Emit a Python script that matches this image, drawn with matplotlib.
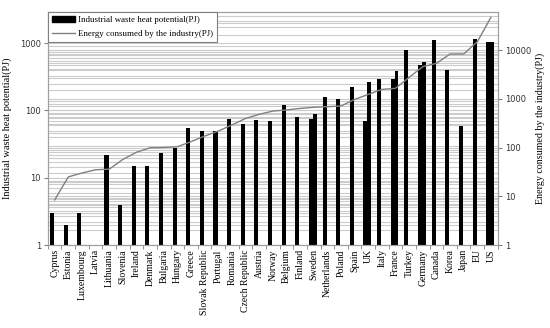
import numpy as np
import matplotlib
matplotlib.use("Agg")
import matplotlib.pyplot as plt
from matplotlib.patches import Patch
from matplotlib.lines import Line2D

# data
countries = ["Cyprus", "Estonia", "Luxembourg", "Latvia", "Lithuania", "Slovenia",
             "Ireland", "Denmark", "Bulgaria", "Hungary", "Greece", "Slovak Republic",
             "Portugal", "Romania", "Czech Republic", "Austria", "Norway", "Belgium",
             "Finland", "Sweden", "Netherlands", "Poland", "Spain", "UK", "Italy",
             "France", "Turkey", "Germany", "Canada", "Korea", "Japan", "EU", "US"]
nan = np.nan
waste_heat = [3, 2, 3, nan, 22, 4, 15, 15, 23, 28, 55, 49, 50, 74, 64, 72, 70, 119,
              81, 74, 158, 148, 225, 70, 293, 293, 790, 470, 1130, 395, 59, 1140, 1050]
# second bar drawn next to some countries in the original
waste_heat_2 = [nan] * 19 + [88, nan, nan, nan, 262, nan, 390, nan, 520,
                             nan, nan, nan, nan, 1050]
energy = [8.4, 25, 30, 35, 36, 57, 80, 99, 100, 104, 132, 172, 218, 290, 395, 480,
          560, 590, 635, 670, 690, 710, 970, 1230, 1560, 1640, 2750, 4570, 5330,
          8300, 8300, 14800, 47000]

L_MAX, R_MAX = 2900, 60000
serif = "Liberation Serif"
x = np.arange(len(countries))

fig = plt.figure(figsize=(5.5, 3.28), dpi=100)
ax = fig.add_axes([0.087, 0.253, 0.818, 0.71])
ax2 = ax.twinx()

# grid lines (left and right scales), kept behind the bars
grid_kw = dict(color="#cccccc", lw=0.8, zorder=0)
for d in [1, 10, 100, 1000]:
    for k in range(1, 10):
        v = d * k
        if v < L_MAX:
            ax.axhline(v, **grid_kw)
for d in [1, 10, 100, 1000, 10000]:
    for k in range(1, 10):
        v = d * k
        if v < R_MAX:
            frac = np.log10(v) / np.log10(R_MAX)
            ax.axhline(L_MAX ** frac, **grid_kw)

ax.bar(x - 0.2, waste_heat, width=0.3, color="black", zorder=2)
ax.bar(x + 0.08, waste_heat_2, width=0.28, color="black", zorder=2)
ax.set_yscale("log")
ax.set_ylim(1, L_MAX)
ax.set_xlim(-0.5, len(countries) - 0.5)

ax2.plot(x, energy, color="#808080", lw=1.0)
ax2.set_yscale("log")
ax2.set_ylim(1, R_MAX)

ax.set_yticks([1, 10, 100, 1000])
ax.set_yticklabels(["1", "10", "100", "1000"])
ax.yaxis.set_minor_locator(matplotlib.ticker.NullLocator())
ax2.set_yticks([1, 10, 100, 1000, 10000])
ax2.set_yticklabels(["1", "10", "100", "1000", "10000"])
ax2.yaxis.set_minor_locator(matplotlib.ticker.NullLocator())
for a in (ax, ax2):
    a.tick_params(axis="y", labelsize=6, length=3, color="#808080", pad=2,
                  labelcolor="#333333")
    for s in a.spines.values():
        s.set_color("#a0a0a0")
        s.set_linewidth(0.8)

ax.set_xticks(x)
ax.set_xticklabels(countries, rotation=90, fontsize=7, family=serif)
ax.set_xticks(np.arange(len(countries) + 1) - 0.5, minor=True)
ax.tick_params(axis="x", which="major", length=0, pad=3)
ax.tick_params(axis="x", which="minor", length=3, color="#808080")

ax.set_ylabel("Industrial waste heat potential(PJ)", fontsize=7.5, family=serif, labelpad=6)
ax2.set_ylabel("Energy consumed by the industry(PJ)", fontsize=7.2, family=serif, labelpad=3)

handles = [Patch(facecolor="black", edgecolor="black"),
           Line2D([], [], color="#808080", lw=1.0)]
leg = ax2.legend(handles, ["Industrial waste heat potential(PJ)",
                           "Energy consumed by the industry(PJ)"],
                 loc="upper left", bbox_to_anchor=(0, 1), borderaxespad=0,
                 prop={"family": serif, "size": 6.4}, fancybox=False,
                 framealpha=1, edgecolor="#808080", handlelength=2.6,
                 handletextpad=0.3, borderpad=0.45, labelspacing=0.6)
leg.get_frame().set_linewidth(0.8)

fig.savefig("out.png", dpi=100)
